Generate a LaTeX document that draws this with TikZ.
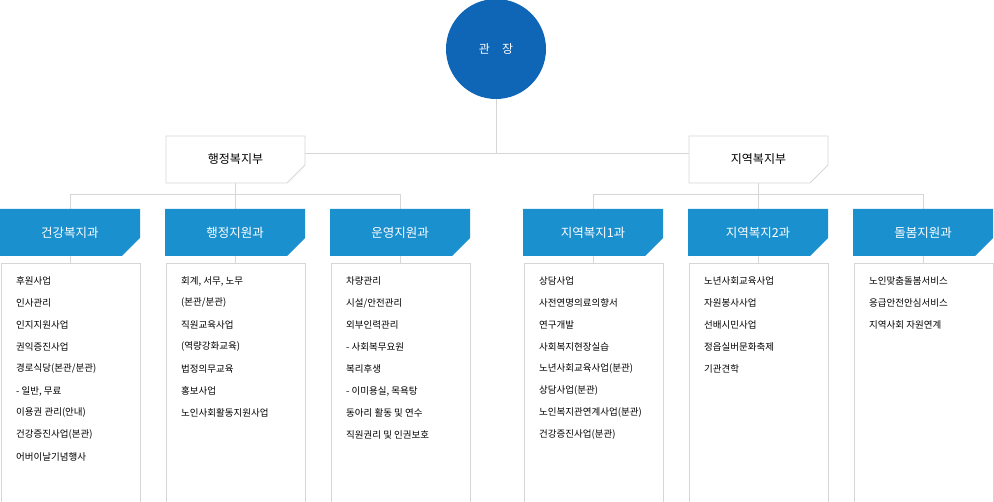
\documentclass[tikz,border=0pt]{standalone}
\usepackage{fontspec}
\setmainfont{Noto Sans CJK KR}
\definecolor{navy}{HTML}{0F66B6}
\definecolor{sky}{HTML}{1B90CE}
\definecolor{ln}{HTML}{D6D6D6}
\begin{document}
\begin{tikzpicture}[x=1pt,y=-1pt,
  lin/.style={draw=ln,line width=0.8pt},
  item/.style={anchor=west,font=\fontsize{9.5}{11}\selectfont,inner sep=0pt}]
\useasboundingbox (0,0) rectangle (994,502);
\fill[navy] (496,49) circle (50);
\node[text=white,font=\fontsize{12}{14}\selectfont] (top) at (496,49) {관\quad 장};
% departments
\newcommand\gbox[3]{%
  \draw[lin,fill=white] (#1,136) -- (#1+139,136) -- (#1+139,165) -- (#1+121,183) -- (#1,183) -- cycle;
  \node[font=\fontsize{12}{14}\selectfont] (#3) at (#1+69.5,159.5) {#2};}
\draw[lin] (496,99) -- (496,153);
\draw[lin] (305,153) -- (689,153);
\draw[lin] (235,183) -- (235,194);
\draw[lin] (758,183) -- (758,194);
\draw[lin] (70,194) -- (400,194);
\draw[lin] (593,194) -- (923,194);
\foreach \x in {70,235,400,593,758,923}{\draw[lin] (\x,194) -- (\x,209); \draw[lin] (\x,256) -- (\x,263);}
\gbox{166}{행정복지부}{d1}
\gbox{689}{지역복지부}{d2}
\newcommand\bbox[3]{%
  \fill[sky] (#1,209) -- (#1+140,209) -- (#1+140,238) -- (#1+122,256) -- (#1,256) -- cycle;
  \node[text=white,font=\fontsize{12.5}{14}\selectfont] (#3) at (#1+70,233) {#2};
  \draw[lin] (#1+1,263) rectangle (#1+140,510);}
\bbox{0}{건강복지과}{t1}
\bbox{165}{행정지원과}{t2}
\bbox{330}{운영지원과}{t3}
\bbox{523}{지역복지1과}{t4}
\bbox{688}{지역복지2과}{t5}
\bbox{853}{돌봄지원과}{t6}
\newcommand\items[2]{%
  \foreach \t [count=\i] in {#2}{\node[item] at (#1,281+22*\i-22) {\t};}}
\items{16}{후원사업,인사관리,인지지원사업,권익증진사업,경로식당(본관/분관),{ - 일반, 무료},이용권 관리(안내),건강증진사업(본관),어버이날기념행사}
\items{181}{{회계, 서무, 노무},{ (본관/분관)},직원교육사업,{ (역량강화교육)},법정의무교육,홍보사업,노인사회활동지원사업}
\items{346}{차량관리,시설/안전관리,외부인력관리,{ - 사회복무요원},복리후생,{ - 이미용실, 목욕탕},동아리 활동 및 연수,직원권리 및 인권보호}
\items{539}{상담사업,사전연명의료의향서,연구개발,사회복지현장실습,노년사회교육사업(분관),상담사업(분관),노인복지관연계사업(분관),건강증진사업(분관)}
\items{704}{노년사회교육사업,자원봉사사업,선배시민사업,정읍실버문화축제,기관견학}
\items{869}{노인맞춤돌봄서비스,응급안전안심서비스,지역사회 자원연계}
\end{tikzpicture}
\end{document}
